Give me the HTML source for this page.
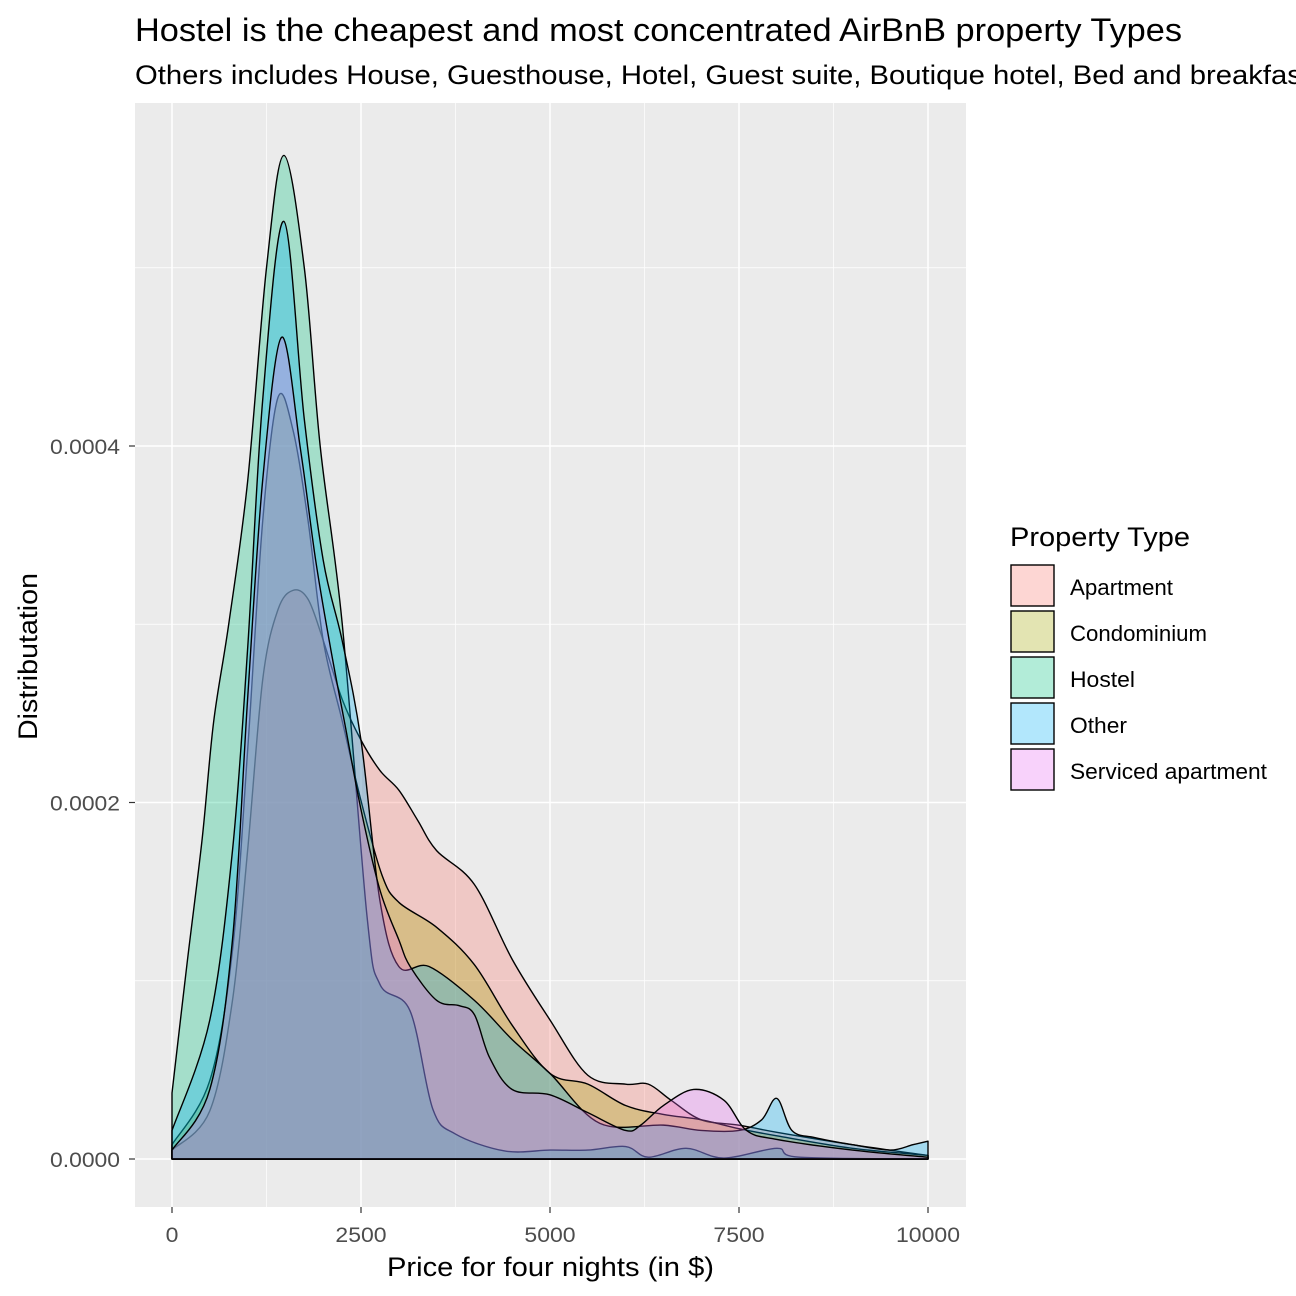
<!DOCTYPE html>
<html><head><meta charset="utf-8"><style>
body{margin:0;background:#fff;}
svg{display:block;font-family:"Liberation Sans",Arial,sans-serif;}
</style></head><body>
<svg id="chart" width="1296" height="1296" viewBox="0 0 1296 1296">
<text x="135" y="41" font-size="32" textLength="1047" lengthAdjust="spacingAndGlyphs" fill="#000">Hostel is the cheapest and most concentrated AirBnB property Types</text>
<text x="135" y="84" font-size="27" textLength="1175" lengthAdjust="spacingAndGlyphs" fill="#000">Others includes House, Guesthouse, Hotel, Guest suite, Boutique hotel, Bed and breakfast</text>
<rect x="135" y="103" width="831" height="1104" fill="#EBEBEB"/>
<g id="grid"></g>
<g id="areas"></g>
<g id="axes"></g>
<text x="387" y="1276" font-size="27" textLength="327" lengthAdjust="spacingAndGlyphs" fill="#000">Price for four nights (in $)</text>
<text transform="translate(37,740) rotate(-90)" font-size="27" textLength="167" lengthAdjust="spacingAndGlyphs" fill="#000">Distributation</text>
<g id="legend">
<text x="1010" y="546" font-size="27" textLength="180" lengthAdjust="spacingAndGlyphs" fill="#000">Property Type</text>
</g>
</svg>
<script>
const categories = ["Apartment","Condominium","Hostel","Other","Serviced apartment"];
const legendLens = [103,137,65,57,197];
const colors = ["rgba(248,118,109,0.3)","rgba(163,165,0,0.3)","rgba(0,191,125,0.3)","rgba(0,176,246,0.3)","rgba(231,107,243,0.3)"];
const xTicks = [0,2500,5000,7500,10000];
const xTickLabels = ["0","2500","5000","7500","10000"];
const yTicks = [0,2,4];
const yTickLabels = ["0.0000","0.0002","0.0004"];
// densities in units of 1e-4
const aptX = [0,500,800,1000,1200,1400,1600,1800,2000,2250,2500,2750,3000,3250,3500,4000,4500,5000,5500,6000,6300,6600,7000,7500,8000,9000,10000];
const aptY = [0.05,0.27,0.89,1.73,2.69,3.08,3.19,3.14,2.91,2.58,2.35,2.18,2.07,1.90,1.73,1.54,1.12,0.78,0.47,0.42,0.42,0.33,0.22,0.19,0.15,0.08,0.02];
const condoX = [0,500,800,1000,1200,1400,1600,1800,2000,2250,2500,2780,3000,3500,4000,4500,5000,5500,6000,6500,7000,7500,8000,9000,10000];
const condoY = [0.08,0.44,1.17,2.29,3.58,4.27,4.09,3.58,2.91,2.46,2.01,1.59,1.44,1.30,1.09,0.75,0.48,0.42,0.30,0.25,0.22,0.17,0.13,0.06,0.02];
const hostelX = [0,200,400,550,750,1000,1250,1480,1750,1960,2250,2580,2750,3150,3450,3750,4400,5000,5500,6000,6300,6800,7300,8000,8300,10000];
const hostelY = [0.37,1.10,1.80,2.45,3.00,3.80,5.00,5.63,5.00,4.00,3.01,1.36,0.98,0.83,0.28,0.14,0.045,0.05,0.05,0.07,0.01,0.06,0.005,0.06,0.01,0];
const otherX = [0,500,800,1000,1200,1480,1750,2000,2250,2500,2750,3000,3400,4000,4500,5000,5660,6500,7000,7500,7800,8000,8200,8500,9000,9500,9800,10000];
const otherY = [0.16,0.78,1.73,2.86,4.26,5.26,4.15,3.36,2.91,2.35,1.45,1.08,1.08,0.89,0.67,0.48,0.20,0.19,0.16,0.16,0.22,0.34,0.16,0.12,0.08,0.05,0.08,0.10];
const servX = [0,500,800,1000,1200,1450,1700,1900,2100,2300,2500,2750,3000,3150,3500,3800,4000,4200,4500,5000,5500,6000,6200,6500,6900,7300,7600,8000,9000,10000];
const servY = [0.05,0.39,1.23,2.58,3.81,4.61,3.98,3.36,2.86,2.41,1.96,1.51,1.23,1.08,0.89,0.86,0.81,0.57,0.39,0.36,0.26,0.16,0.19,0.30,0.39,0.33,0.16,0.11,0.05,0.01];

const seriesX = [aptX,condoX,hostelX,otherX,servX];
const seriesY = [aptY,condoY,hostelY,otherY,servY];
const NS="http://www.w3.org/2000/svg";
function xs(v){return 172+v*0.0756;}
function ys(v){return 1159-v*178.25;}
function mk(tag,attrs,parent){const e=document.createElementNS(NS,tag);for(const k in attrs)e.setAttribute(k,attrs[k]);parent.appendChild(e);return e;}
const grid=document.getElementById('grid');
[1250,3750,6250,8750].forEach(v=>{const l=mk('line',{x1:xs(v),x2:xs(v),y1:103,y2:1207,stroke:'#fff','stroke-width':0.7},grid);});
[1,3,5].forEach(v=>{const l=mk('line',{x1:135,x2:966,y1:ys(v),y2:ys(v),stroke:'#fff','stroke-width':0.7},grid);});
xTicks.forEach(v=>{const l=mk('line',{x1:xs(v),x2:xs(v),y1:103,y2:1207,stroke:'#fff','stroke-width':1.5},grid);});
yTicks.forEach(v=>{const l=mk('line',{x1:135,x2:966,y1:ys(v),y2:ys(v),stroke:'#fff','stroke-width':1.5},grid);});
function pathD(X,Y){
  const p=X.map((x,i)=>[xs(x),ys(Y[i])]);
  let d=`M${p[0][0]},${ys(0)} L${p[0][0]},${p[0][1]}`;
  for(let i=0;i<p.length-1;i++){
    const p0=p[i-1]||p[i],p1=p[i],p2=p[i+1],p3=p[i+2]||p[i+1];
    const c1x=p1[0]+(p2[0]-p0[0])/6,c1y=p1[1]+(p2[1]-p0[1])/6;
    const c2x=p2[0]-(p3[0]-p1[0])/6,c2y=p2[1]-(p3[1]-p1[1])/6;
    d+=` C${c1x},${Math.min(c1y,ys(0))} ${c2x},${Math.min(c2y,ys(0))} ${p2[0]},${p2[1]}`;
  }
  d+=` L${p[p.length-1][0]},${ys(0)} Z`;
  return d;
}
const areas=document.getElementById('areas');
categories.forEach((c,i)=>{
  const a=mk('path',{d:pathD(seriesX[i],seriesY[i]),fill:colors[i],stroke:'#000','stroke-width':1.4,'stroke-linejoin':'round'},areas);
  
  
});
const axes=document.getElementById('axes');
xTicks.forEach((v,i)=>{
  const t=mk('line',{x1:xs(v),x2:xs(v),y1:1207,y2:1213,stroke:'#333','stroke-width':1.2},axes);
  
  const lab=xTickLabels[i];
  const w=lab.length*12.8;
  const l=mk('text',{x:xs(v)-w/2,y:1242,'font-size':21,textLength:w,lengthAdjust:'spacingAndGlyphs',fill:'#4D4D4D'},axes);
  l.textContent=lab;
  
});
yTicks.forEach((v,i)=>{
  const t=mk('line',{x1:129,x2:135,y1:ys(v),y2:ys(v),stroke:'#333','stroke-width':1.2},axes);
  
  const l=mk('text',{x:50,y:ys(v)+8,'font-size':21,textLength:70,lengthAdjust:'spacingAndGlyphs',fill:'#4D4D4D'},axes);
  l.textContent=yTickLabels[i];
  
});
const legend=document.getElementById('legend');
categories.forEach((c,i)=>{
  const y=565+i*46;
  const bg=mk('rect',{x:1011,y:y,width:43,height:41,fill:'#fff'},legend);
  
  const r=mk('rect',{x:1011,y:y,width:43,height:41,fill:colors[i],stroke:'#000','stroke-width':1.4},legend);
  
  const t=mk('text',{x:1070,y:y+30,'font-size':22,textLength:legendLens[i],lengthAdjust:'spacingAndGlyphs',fill:'#000'},legend);
  t.textContent=c;
  
});
</script>
</body></html>
